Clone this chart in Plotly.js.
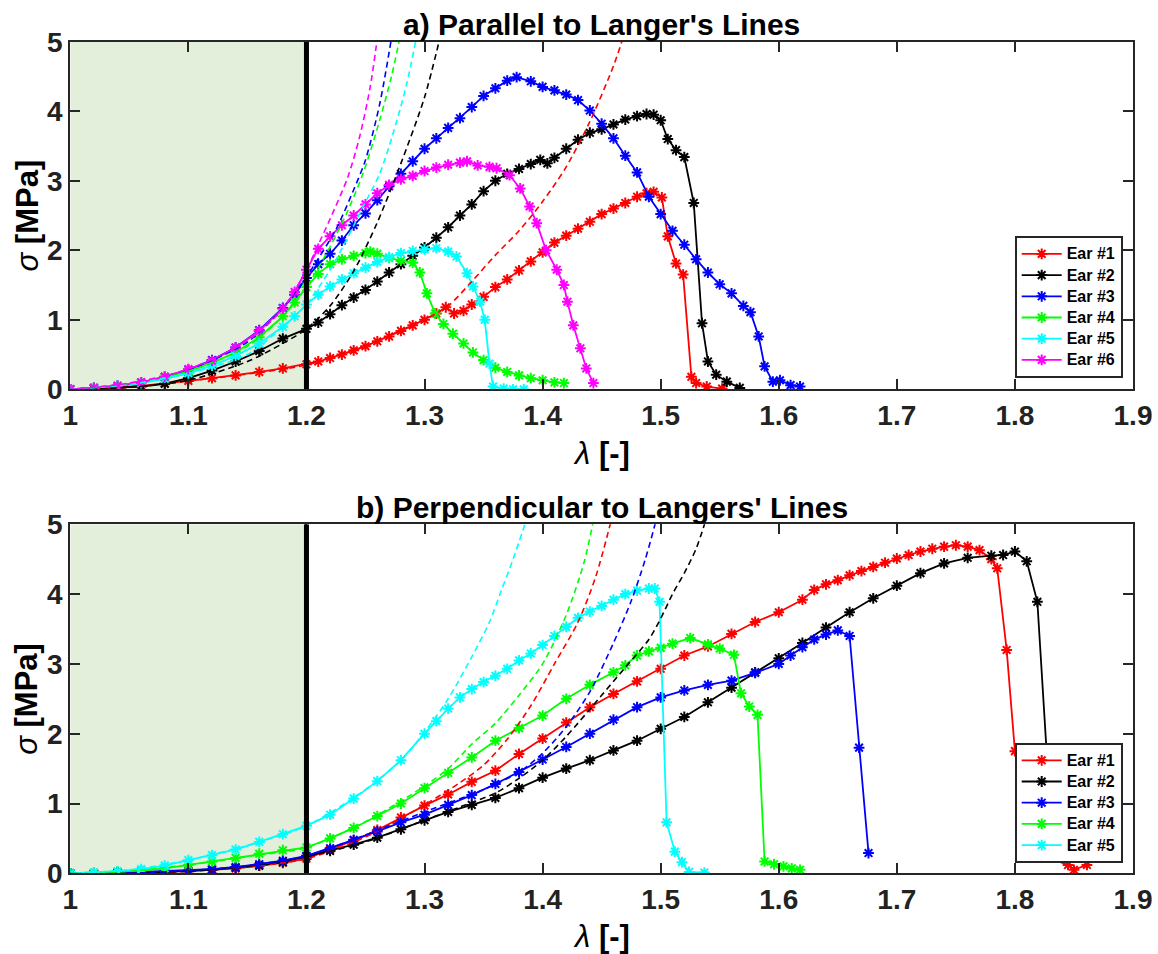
<!DOCTYPE html>
<html>
<head>
<meta charset="utf-8">
<script src="https://cdn.plot.ly/plotly-3.0.1.min.js"></script>
<style>html,body{margin:0;padding:0;background:#fff;}#chart{width:1158px;height:954px;}</style>
</head>
<body>
<div id="chart"></div>
<script>
// ---------------- DATA ----------------
const seriesNames = ['Ear #1', 'Ear #2', 'Ear #3', 'Ear #4', 'Ear #5', 'Ear #6'];
const seriesColors = ['#ff0000', '#000000', '#0000ff', '#00ff00', '#00ffff', '#ff00ff'];
const xTickVals = [1, 1.1, 1.2, 1.3, 1.4, 1.5, 1.6, 1.7, 1.8, 1.9];
const xTickText = ['1', '1.1', '1.2', '1.3', '1.4', '1.5', '1.6', '1.7', '1.8', '1.9'];
const yTickVals = [0, 1, 2, 3, 4, 5];
const shadeRange = [1, 1.2];

// a) Parallel to Langer's lines - measured data
const parEar1X = [1.00,1.02,1.04,1.06,1.08,1.10,1.12,1.14,1.16,1.18,1.20,1.21,1.22,1.23,1.24,1.25,1.26,1.27,1.28,1.29,1.30,1.31,1.318,1.325,1.333,1.34,1.35,1.36,1.37,1.38,1.39,1.40,1.41,1.42,1.43,1.44,1.45,1.46,1.47,1.48,1.488,1.494,1.501,1.506,1.513,1.519,1.526,1.530,1.539,1.552];
const parEar1Y = [0,0.01,0.03,0.05,0.08,0.12,0.16,0.20,0.25,0.30,0.36,0.40,0.45,0.50,0.56,0.62,0.69,0.76,0.84,0.92,1.00,1.09,1.18,1.09,1.13,1.22,1.33,1.47,1.58,1.71,1.84,1.97,2.11,2.21,2.31,2.41,2.52,2.60,2.68,2.77,2.82,2.84,2.76,2.20,1.81,1.65,0.18,0.09,0.04,0.01];
const parEar2X = [1.00,1.02,1.04,1.06,1.08,1.10,1.12,1.14,1.16,1.18,1.20,1.21,1.22,1.23,1.24,1.25,1.26,1.27,1.28,1.29,1.30,1.31,1.32,1.33,1.34,1.35,1.36,1.37,1.38,1.39,1.398,1.404,1.41,1.42,1.43,1.44,1.45,1.46,1.47,1.48,1.488,1.494,1.500,1.506,1.513,1.520,1.528,1.535,1.540,1.547,1.556,1.567];
const parEar2Y = [0,0.01,0.02,0.04,0.08,0.16,0.27,0.40,0.55,0.73,0.87,0.96,1.08,1.21,1.32,1.43,1.55,1.68,1.80,1.92,2.04,2.18,2.33,2.50,2.66,2.85,3.00,3.10,3.17,3.24,3.30,3.25,3.33,3.46,3.59,3.69,3.74,3.81,3.88,3.93,3.96,3.95,3.87,3.60,3.44,3.34,2.68,0.95,0.40,0.21,0.11,0.02];
const parEar3X = [1.00,1.02,1.04,1.06,1.08,1.10,1.12,1.14,1.16,1.18,1.19,1.20,1.21,1.22,1.23,1.24,1.25,1.26,1.27,1.28,1.29,1.30,1.31,1.32,1.33,1.34,1.35,1.36,1.37,1.378,1.39,1.40,1.41,1.42,1.43,1.44,1.45,1.46,1.47,1.48,1.49,1.50,1.51,1.52,1.53,1.54,1.55,1.56,1.57,1.576,1.583,1.588,1.595,1.601,1.61,1.618];
const parEar3Y = [0,0.02,0.05,0.10,0.18,0.28,0.42,0.60,0.85,1.17,1.36,1.60,1.80,1.95,2.14,2.36,2.53,2.72,2.92,3.10,3.28,3.46,3.61,3.76,3.90,4.06,4.22,4.33,4.44,4.49,4.43,4.35,4.30,4.24,4.16,4.01,3.82,3.61,3.36,3.12,2.77,2.52,2.28,2.08,1.87,1.68,1.51,1.38,1.20,1.11,0.76,0.33,0.11,0.13,0.06,0.04];
const parEar4X = [1.00,1.02,1.04,1.06,1.08,1.10,1.12,1.14,1.16,1.18,1.19,1.20,1.21,1.22,1.23,1.24,1.25,1.254,1.26,1.27,1.28,1.29,1.296,1.302,1.309,1.316,1.324,1.333,1.341,1.35,1.36,1.37,1.38,1.39,1.40,1.41,1.418];
const parEar4Y = [0,0.02,0.05,0.10,0.17,0.26,0.38,0.53,0.75,1.05,1.25,1.47,1.66,1.80,1.87,1.92,1.96,1.98,1.95,1.89,1.85,1.82,1.68,1.38,1.09,0.94,0.80,0.66,0.53,0.42,0.31,0.25,0.20,0.16,0.13,0.10,0.09];
const parEar5X = [1.00,1.02,1.04,1.06,1.08,1.10,1.12,1.14,1.16,1.18,1.19,1.20,1.21,1.22,1.23,1.24,1.25,1.26,1.27,1.28,1.29,1.30,1.31,1.32,1.327,1.336,1.341,1.347,1.351,1.355,1.358,1.367,1.375,1.384];
const parEar5Y = [0,0.02,0.05,0.09,0.15,0.23,0.34,0.48,0.66,0.90,1.05,1.22,1.36,1.48,1.58,1.67,1.75,1.83,1.90,1.96,1.99,2.01,2.03,1.98,1.91,1.67,1.48,1.26,1.00,0.37,0.04,0.01,0.00,0.00];
const parEar6X = [1.00,1.02,1.04,1.06,1.08,1.10,1.12,1.14,1.16,1.18,1.19,1.20,1.21,1.22,1.23,1.24,1.25,1.26,1.27,1.28,1.29,1.30,1.31,1.32,1.33,1.336,1.345,1.355,1.361,1.372,1.381,1.389,1.395,1.403,1.412,1.418,1.421,1.426,1.432,1.437,1.443];
const parEar6Y = [0,0.02,0.05,0.10,0.18,0.29,0.41,0.60,0.84,1.16,1.40,1.72,2.02,2.20,2.36,2.50,2.66,2.82,2.94,3.02,3.07,3.14,3.19,3.23,3.26,3.28,3.22,3.20,3.18,3.08,2.89,2.63,2.39,2.00,1.72,1.50,1.26,0.92,0.59,0.30,0.09];

// a) model fits (dashed)
const parFit1X = [1.00,1.05,1.10,1.15,1.20,1.25,1.28,1.30,1.32,1.34,1.36,1.38,1.40,1.42,1.44,1.46,1.468];
const parFit1Y = [0,0.03,0.12,0.22,0.35,0.62,0.85,1.00,1.20,1.55,1.93,2.28,2.70,3.20,3.85,4.65,5.05];
const parFit2X = [1.00,1.05,1.10,1.15,1.18,1.20,1.22,1.24,1.26,1.28,1.30,1.313];
const parFit2Y = [0,0.03,0.13,0.40,0.66,0.87,1.20,1.70,2.40,3.25,4.20,5.05];
const parFit3X = [1.00,1.05,1.10,1.15,1.18,1.20,1.21,1.225,1.24,1.25,1.262,1.272];
const parFit3Y = [0,0.08,0.28,0.68,1.17,1.62,1.88,2.30,2.87,3.30,4.10,5.05];
const parFit4X = [1.00,1.05,1.10,1.15,1.18,1.20,1.22,1.234,1.248,1.262,1.272,1.279];
const parFit4Y = [0,0.08,0.26,0.62,1.05,1.47,2.05,2.53,3.11,3.87,4.50,5.05];
const parFit5X = [1.00,1.05,1.10,1.15,1.18,1.20,1.22,1.234,1.248,1.262,1.276,1.285,1.293];
const parFit5Y = [0,0.07,0.23,0.50,0.90,1.22,1.72,2.15,2.63,3.10,3.83,4.40,5.05];
const parFit6X = [1.00,1.05,1.10,1.15,1.18,1.20,1.21,1.22,1.235,1.245,1.254,1.26];
const parFit6Y = [0,0.09,0.29,0.70,1.16,1.72,2.08,2.45,3.05,3.63,4.35,5.05];

// b) Perpendicular to Langer's lines - measured data
const perEar1X = [1.00,1.02,1.04,1.06,1.08,1.10,1.12,1.14,1.16,1.18,1.20,1.22,1.24,1.26,1.28,1.30,1.32,1.34,1.36,1.38,1.40,1.42,1.44,1.46,1.48,1.50,1.52,1.54,1.56,1.58,1.60,1.62,1.63,1.64,1.65,1.66,1.67,1.68,1.69,1.70,1.71,1.72,1.73,1.74,1.75,1.76,1.77,1.78,1.785,1.793,1.80,1.815,1.845,1.85,1.861];
const perEar1Y = [0,0.00,0.01,0.01,0.02,0.03,0.05,0.07,0.11,0.15,0.21,0.34,0.47,0.62,0.80,0.97,1.13,1.31,1.47,1.71,1.93,2.16,2.38,2.57,2.75,2.93,3.12,3.25,3.43,3.60,3.74,3.92,4.06,4.14,4.20,4.27,4.33,4.39,4.45,4.51,4.56,4.61,4.65,4.68,4.70,4.68,4.63,4.50,4.37,3.20,1.75,0.30,0.12,0.05,0.12];
const perEar2X = [1.00,1.02,1.04,1.06,1.08,1.10,1.12,1.14,1.16,1.18,1.20,1.22,1.24,1.26,1.28,1.30,1.32,1.34,1.36,1.38,1.40,1.42,1.44,1.46,1.48,1.50,1.52,1.54,1.56,1.58,1.60,1.62,1.64,1.66,1.68,1.70,1.72,1.74,1.76,1.78,1.79,1.80,1.81,1.819,1.827,1.833];
const perEar2Y = [0,0.00,0.01,0.01,0.02,0.03,0.05,0.08,0.11,0.16,0.24,0.32,0.41,0.51,0.63,0.76,0.88,0.98,1.08,1.22,1.37,1.50,1.62,1.76,1.90,2.07,2.24,2.45,2.66,2.88,3.08,3.30,3.52,3.74,3.94,4.12,4.30,4.44,4.52,4.55,4.56,4.61,4.47,3.89,1.70,0.40];
const perEar3X = [1.00,1.02,1.04,1.06,1.08,1.10,1.12,1.14,1.16,1.18,1.20,1.22,1.24,1.26,1.28,1.30,1.32,1.34,1.36,1.38,1.40,1.42,1.44,1.46,1.48,1.50,1.52,1.54,1.56,1.58,1.60,1.61,1.62,1.63,1.64,1.65,1.66,1.668,1.676];
const perEar3Y = [0,0.00,0.01,0.02,0.03,0.04,0.06,0.09,0.13,0.18,0.25,0.36,0.48,0.60,0.73,0.84,0.98,1.12,1.28,1.45,1.63,1.81,2.00,2.20,2.38,2.52,2.62,2.70,2.76,2.87,3.00,3.12,3.24,3.35,3.42,3.48,3.40,1.80,0.29];
const perEar4X = [1.00,1.02,1.04,1.06,1.08,1.10,1.12,1.14,1.16,1.18,1.20,1.22,1.24,1.26,1.28,1.30,1.32,1.34,1.36,1.38,1.40,1.42,1.44,1.46,1.47,1.48,1.49,1.50,1.51,1.525,1.54,1.55,1.562,1.568,1.575,1.582,1.588,1.596,1.604,1.611,1.618];
const perEar4Y = [0,0.01,0.02,0.04,0.07,0.12,0.17,0.22,0.28,0.33,0.37,0.50,0.65,0.82,1.00,1.22,1.44,1.66,1.90,2.08,2.26,2.50,2.70,2.88,2.98,3.12,3.18,3.23,3.29,3.37,3.28,3.22,3.13,2.58,2.39,2.27,0.17,0.13,0.10,0.07,0.05];
const perEar5X = [1.00,1.02,1.04,1.06,1.08,1.10,1.12,1.14,1.16,1.18,1.20,1.22,1.24,1.26,1.28,1.30,1.31,1.32,1.33,1.34,1.35,1.36,1.37,1.38,1.39,1.40,1.41,1.42,1.43,1.44,1.45,1.46,1.47,1.48,1.49,1.495,1.499,1.505,1.512,1.518,1.524,1.537];
const perEar5Y = [0,0.01,0.03,0.06,0.11,0.19,0.26,0.34,0.45,0.56,0.68,0.84,1.07,1.32,1.62,2.00,2.18,2.36,2.52,2.64,2.74,2.83,2.93,3.05,3.15,3.27,3.40,3.53,3.66,3.75,3.83,3.92,4.00,4.05,4.08,4.08,3.89,0.73,0.31,0.16,0.02,0.01];

// b) model fits (dashed)
const perFit1X = [1.00,1.05,1.10,1.15,1.20,1.25,1.30,1.33,1.35,1.37,1.39,1.41,1.43,1.445,1.458];
const perFit1Y = [0,0.00,0.03,0.09,0.21,0.52,0.98,1.30,1.55,1.92,2.40,3.00,3.60,4.25,5.05];
const perFit2X = [1.00,1.05,1.10,1.15,1.20,1.25,1.30,1.33,1.36,1.38,1.40,1.42,1.45,1.47,1.49,1.50,1.51,1.52,1.53,1.538];
const perFit2Y = [0,0.00,0.03,0.10,0.24,0.45,0.76,0.95,1.15,1.36,1.62,1.96,2.55,2.95,3.35,3.65,4.00,4.30,4.65,5.05];
const perFit3X = [1.00,1.05,1.10,1.15,1.20,1.25,1.30,1.35,1.38,1.40,1.42,1.44,1.46,1.475,1.487,1.496];
const perFit3Y = [0,0.00,0.04,0.11,0.25,0.55,0.88,1.20,1.45,1.72,2.10,2.60,3.30,3.90,4.50,5.05];
const perFit4X = [1.00,1.05,1.10,1.15,1.20,1.25,1.30,1.32,1.34,1.36,1.38,1.40,1.42,1.435,1.443];
const perFit4Y = [0,0.03,0.12,0.24,0.37,0.74,1.25,1.50,1.85,2.15,2.55,3.00,3.70,4.45,5.05];
const perFit5X = [1.00,1.05,1.10,1.15,1.20,1.25,1.28,1.30,1.32,1.34,1.355,1.365,1.375,1.386];
const perFit5Y = [0,0.05,0.19,0.40,0.68,1.20,1.62,2.02,2.50,3.10,3.60,4.05,4.50,5.05];

const parData = [[parEar1X,parEar1Y],[parEar2X,parEar2Y],[parEar3X,parEar3Y],[parEar4X,parEar4Y],[parEar5X,parEar5Y],[parEar6X,parEar6Y]];
const parFits = [[parFit1X,parFit1Y],[parFit2X,parFit2Y],[parFit3X,parFit3Y],[parFit4X,parFit4Y],[parFit5X,parFit5Y],[parFit6X,parFit6Y]];
const perData = [[perEar1X,perEar1Y],[perEar2X,perEar2Y],[perEar3X,perEar3Y],[perEar4X,perEar4Y],[perEar5X,perEar5Y]];
const perFits = [[perFit1X,perFit1Y],[perFit2X,perFit2Y],[perFit3X,perFit3Y],[perFit4X,perFit4Y],[perFit5X,perFit5Y]];

// ---------------- BUILD ----------------
const FONT = 'Liberation Sans, Arial, Helvetica, sans-serif';
const W = 1158, H = 954;
const px = v => v / W, py = v => 1 - v / H;

function buildTraces(data, fits, xa, ya, leg) {
  const out = [];
  data.forEach((d, i) => {
    out.push({
      x: d[0], y: d[1], xaxis: xa, yaxis: ya, legend: leg,
      name: '<span style="font-size:16px">' + seriesNames[i] + '</span>', mode: 'lines+markers',
      line: {color: seriesColors[i], width: 1.8},
      marker: {symbol: 'asterisk-open', size: 9, color: seriesColors[i], line: {color: seriesColors[i], width: 2}},
      hoverinfo: 'x+y'
    });
  });
  fits.forEach((f, i) => {
    out.push({
      x: f[0], y: f[1], xaxis: xa, yaxis: ya, showlegend: false,
      mode: 'lines', line: {color: seriesColors[i], width: 1.6, dash: '6px,4px', shape: 'spline', smoothing: 0.8},
      hoverinfo: 'skip'
    });
  });
  return out;
}

const traces = buildTraces(parData, parFits, 'x', 'y', 'legend')
  .concat(buildTraces(perData, perFits, 'x2', 'y2', 'legend2'));

const axisCommon = {
  showline: true, linecolor: '#262626', linewidth: 2, mirror: 'ticks',
  ticks: 'inside', ticklen: 10, tickwidth: 2, tickcolor: '#262626',
  showgrid: false, zeroline: false,
  tickfont: {family: FONT, size: 28, color: '#222', weight: 'bold'}
};
const xDom = [px(70.3), px(1133)];
const xAx = Object.assign({}, axisCommon, {range: [1, 1.9], tickvals: xTickVals, ticktext: xTickText, domain: xDom});
const yAx = Object.assign({}, axisCommon, {range: [0, 5], tickvals: yTickVals, ticktext: yTickVals.map(String)});

function panelShapes(xr, yr) {
  return [
    {type: 'rect', xref: xr, yref: yr, x0: shadeRange[0], x1: shadeRange[1], y0: 0, y1: 5,
     fillcolor: '#e3eedb', line: {width: 0}, layer: 'below'},
    {type: 'line', xref: xr, yref: yr, x0: shadeRange[1], x1: shadeRange[1], y0: 0, y1: 5,
     line: {color: '#000', width: 5}, layer: 'above'}
  ];
}

const legendCommon = {
  xanchor: 'right', yanchor: 'bottom', x: px(1122.7),
  bgcolor: '#fff', bordercolor: '#262626', borderwidth: 2,
  font: {family: FONT, size: 14, color: '#000', weight: 'bold'},
  itemwidth: 40, tracegroupgap: 0
};

const ann = (text, x, y, size, extra) => Object.assign({
  text: text, xref: 'paper', yref: 'paper', x: x, y: y, xanchor: 'center', yanchor: 'middle',
  showarrow: false, font: {family: FONT, size: size, color: '#000'}
}, extra || {});

const layout = {
  width: W, height: H, margin: {l: 0, r: 0, t: 0, b: 0},
  paper_bgcolor: '#fff', plot_bgcolor: '#fff', showlegend: true,
  xaxis: Object.assign({}, xAx, {anchor: 'y'}),
  yaxis: Object.assign({}, yAx, {anchor: 'x', domain: [py(389.3), py(41.7)]}),
  xaxis2: Object.assign({}, xAx, {anchor: 'y2'}),
  yaxis2: Object.assign({}, yAx, {anchor: 'x2', domain: [py(873.3), py(524.3)]}),
  legend: Object.assign({}, legendCommon, {y: py(378.3)}),
  legend2: Object.assign({}, legendCommon, {y: py(862.7)}),
  shapes: panelShapes('x', 'y').concat(panelShapes('x2', 'y2')),
  annotations: [
    ann("<b>a) Parallel to Langer's Lines</b>", px(601.6), py(25), 30),
    ann("<b>b) Perpendicular to Langers' Lines</b>", px(601.6), py(507), 30),
    ann("<i>λ</i> <b>[-]</b>", px(601.6), py(453), 31),
    ann("<i>λ</i> <b>[-]</b>", px(601.6), py(936), 31),
    ann("<i>σ</i> <b>[MPa]</b>", px(27), py(215.5), 31, {textangle: -90}),
    ann("<i>σ</i> <b>[MPa]</b>", px(27), py(698.8), 31, {textangle: -90})
  ]
};

Plotly.newPlot('chart', traces, layout, {staticPlot: true, displayModeBar: false});
</script>
</body>
</html>
